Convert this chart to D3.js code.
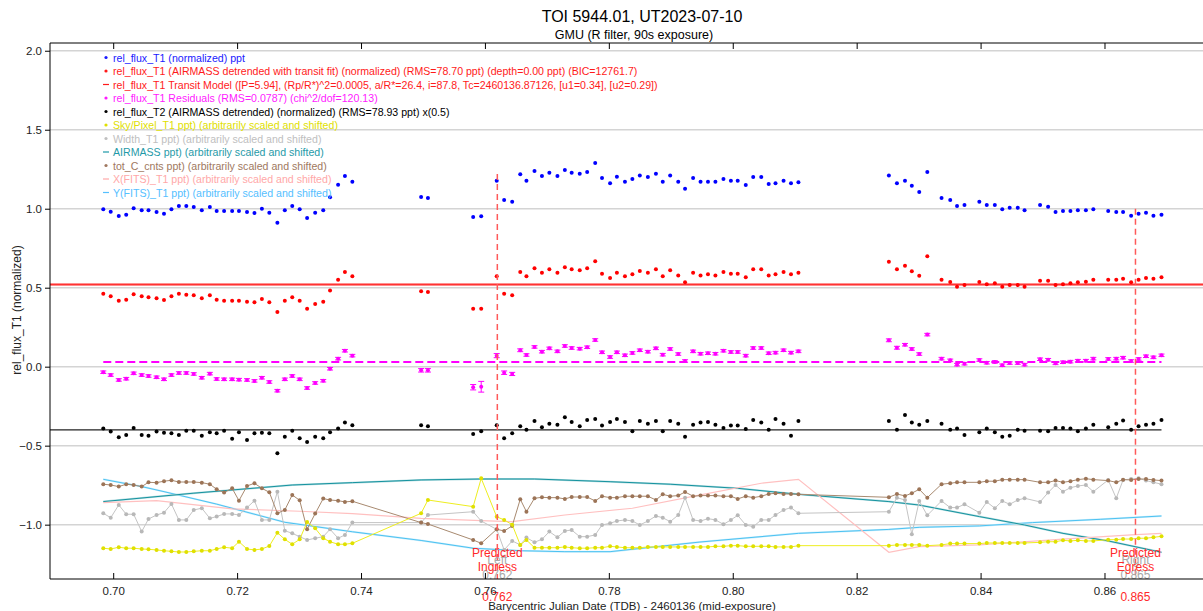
<!DOCTYPE html>
<html>
<head>
<meta charset="utf-8">
<script src="https://cdn.jsdelivr.net/npm/d3@7"></script>
<style>
  body { margin: 0; background: #fff; }
  svg { font-family: Arial, "Liberation Sans", sans-serif; }
</style>
</head>
<body>
<div id="chart"></div>
<script>
// TOI 5944.01 light curve, GMU 2023-07-10

var width = 1203,
    height = 611;

// ---- data ----
var times = [
  0.6984, 0.6996, 0.7009, 0.7021, 0.7033, 0.7046, 0.7057, 0.7070, 0.7082, 0.7094, 0.7106, 0.7118, 0.7130, 0.7143, 0.7156, 0.7167, 0.7179,
  0.7192, 0.7203, 0.7216, 0.7228, 0.7240, 0.7252, 0.7265, 0.7277, 0.7289, 0.7301, 0.7313, 0.7326, 0.7339, 0.7350, 0.7363, 0.7374, 0.7386,
  0.7497, 0.7508,
  0.7581, 0.7594,
  0.7619, 0.7631, 0.7644, 0.7657, 0.7667, 0.7680, 0.7692, 0.7704, 0.7717, 0.7729, 0.7740, 0.7753, 0.7765, 0.7778, 0.7789, 0.7802, 0.7813,
  0.7826, 0.7838, 0.7850, 0.7863, 0.7876, 0.7887, 0.7899, 0.7912, 0.7923, 0.7936, 0.7948, 0.7960, 0.7972, 0.7985, 0.7997, 0.8008, 0.8021,
  0.8033, 0.8046, 0.8058, 0.8069, 0.8082, 0.8094, 0.8106,
  0.8252, 0.8265, 0.8278, 0.8289, 0.8301, 0.8314, 0.8337, 0.8351, 0.8362, 0.8374, 0.8398, 0.8410, 0.8423, 0.8435, 0.8447, 0.8460, 0.8471,
  0.8496, 0.8509, 0.8521, 0.8533, 0.8545, 0.8557, 0.8570, 0.8582, 0.8606, 0.8619, 0.8630, 0.8643, 0.8655, 0.8667, 0.8679, 0.8692
];

var relFlux = [
  0.996, 0.981, 0.954, 0.962, 1.003, 0.990, 0.990, 0.979, 0.968, 0.996, 1.017, 1.017, 1.011, 0.990, 1.011, 0.985, 0.985,
  0.985, 0.985, 0.979, 0.973, 1.000, 0.975, 0.911, 0.990, 1.017, 0.996, 0.941, 0.975, 0.990, 1.072, 1.152, 1.207, 1.171,
  1.074, 1.068,
  0.947, 0.952,
  1.177, 1.055, 1.044, 1.218, 1.177, 1.239, 1.207, 1.228, 1.207, 1.245, 1.228, 1.222, 1.232, 1.289, 1.194, 1.161, 1.203,
  1.171, 1.188, 1.211, 1.201, 1.222, 1.171, 1.211, 1.171, 1.127, 1.194, 1.171, 1.171, 1.171, 1.188, 1.177, 1.177, 1.150,
  1.201, 1.201, 1.156, 1.161, 1.177, 1.161, 1.167,
  1.211, 1.161, 1.177, 1.146, 1.106, 1.232, 1.068, 1.055, 1.017, 1.023, 1.044, 1.023, 1.023, 0.996, 1.006, 1.006, 0.990,
  1.023, 1.013, 0.979, 0.985, 0.985, 0.990, 0.990, 0.996, 0.985, 0.979, 0.979, 0.956, 0.968, 0.975, 0.956, 0.962
];

var detrended = [
  0.462, 0.446, 0.418, 0.424, 0.458, 0.446, 0.439, 0.433, 0.422, 0.446, 0.462, 0.456, 0.452, 0.433, 0.452, 0.424, 0.418,
  0.418, 0.418, 0.411, 0.408, 0.428, 0.408, 0.346, 0.418, 0.439, 0.418, 0.367, 0.397, 0.411, 0.483, 0.551, 0.599, 0.572,
  0.477, 0.473,
  0.367, 0.367,
  0.572, 0.462, 0.452, 0.599, 0.572, 0.623, 0.595, 0.616, 0.595, 0.629, 0.616, 0.610, 0.623, 0.667, 0.589, 0.561, 0.595,
  0.572, 0.585, 0.606, 0.595, 0.616, 0.572, 0.610, 0.578, 0.534, 0.595, 0.578, 0.585, 0.578, 0.599, 0.589, 0.589, 0.566,
  0.616, 0.616, 0.578, 0.585, 0.599, 0.585, 0.595,
  0.665, 0.616, 0.639, 0.604, 0.576, 0.699, 0.551, 0.536, 0.506, 0.517, 0.536, 0.522, 0.528, 0.506, 0.517, 0.517, 0.506,
  0.544, 0.544, 0.517, 0.522, 0.528, 0.534, 0.538, 0.551, 0.551, 0.551, 0.557, 0.534, 0.551, 0.561, 0.557, 0.566
];

var residuals = [
  -0.035, -0.053, -0.084, -0.076, -0.042, -0.053, -0.059, -0.067, -0.080, -0.053, -0.040, -0.040, -0.046, -0.070, -0.044, -0.078, -0.080,
  -0.080, -0.082, -0.084, -0.090, -0.070, -0.097, -0.152, -0.080, -0.059, -0.080, -0.135, -0.103, -0.089, -0.013, 0.051, 0.101, 0.070,
  -0.023, -0.023,
  -0.130, -0.127,
  0.070, -0.038, -0.046, 0.104, 0.074, 0.125, 0.095, 0.116, 0.097, 0.131, 0.118, 0.114, 0.123, 0.169, 0.091, 0.061, 0.091,
  0.072, 0.087, 0.104, 0.095, 0.116, 0.076, 0.112, 0.080, 0.036, 0.097, 0.082, 0.085, 0.082, 0.101, 0.093, 0.093, 0.070,
  0.118, 0.118, 0.085, 0.089, 0.104, 0.089, 0.097,
  0.167, 0.120, 0.139, 0.112, 0.080, 0.203, 0.051, 0.040, 0.013, 0.019, 0.042, 0.025, 0.030, 0.009, 0.023, 0.023, 0.013,
  0.047, 0.044, 0.021, 0.028, 0.032, 0.038, 0.038, 0.051, 0.049, 0.051, 0.057, 0.036, 0.049, 0.066, 0.059, 0.072
];

var residualErr = [
  0.008, 0.008, 0.008, 0.008, 0.008, 0.008, 0.008, 0.008, 0.008, 0.008, 0.008, 0.008, 0.008, 0.008, 0.008, 0.008, 0.008,
  0.008, 0.008, 0.008, 0.008, 0.008, 0.008, 0.008, 0.008, 0.008, 0.008, 0.008, 0.008, 0.008, 0.008, 0.008, 0.008, 0.008,
  0.011, 0.011,
  0.017, 0.034,
  0.013, 0.011, 0.010, 0.009, 0.008, 0.008, 0.008, 0.008, 0.008, 0.008, 0.008, 0.008, 0.008, 0.008, 0.008, 0.008, 0.008,
  0.008, 0.008, 0.008, 0.008, 0.008, 0.008, 0.008, 0.008, 0.008, 0.008, 0.008, 0.008, 0.008, 0.008, 0.008, 0.008, 0.008,
  0.008, 0.008, 0.008, 0.008, 0.008, 0.008, 0.008,
  0.009, 0.009, 0.008, 0.008, 0.008, 0.008, 0.008, 0.008, 0.008, 0.008, 0.008, 0.008, 0.008, 0.008, 0.008, 0.008, 0.008,
  0.008, 0.008, 0.008, 0.008, 0.008, 0.008, 0.008, 0.008, 0.008, 0.008, 0.008, 0.008, 0.008, 0.008, 0.008, 0.008
];

var fluxT2 = [
  -0.392, -0.411, -0.447, -0.432, -0.388, -0.432, -0.437, -0.411, -0.418, -0.422, -0.432, -0.405, -0.405, -0.437, -0.415, -0.422, -0.405,
  -0.456, -0.415, -0.464, -0.422, -0.418, -0.422, -0.548, -0.443, -0.405, -0.453, -0.477, -0.443, -0.453, -0.415, -0.392, -0.354, -0.371,
  -0.371, -0.377,
  -0.426, -0.409,
  -0.371, -0.453, -0.422, -0.377, -0.399, -0.344, -0.384, -0.361, -0.367, -0.320, -0.350, -0.377, -0.337, -0.331, -0.373, -0.350, -0.331,
  -0.350, -0.409, -0.344, -0.361, -0.344, -0.409, -0.344, -0.361, -0.443, -0.367, -0.354, -0.350, -0.367, -0.388, -0.373, -0.373, -0.394,
  -0.337, -0.354, -0.399, -0.331, -0.361, -0.437, -0.344,
  -0.344, -0.399, -0.306, -0.354, -0.367, -0.344, -0.361, -0.399, -0.392, -0.432, -0.415, -0.392, -0.415, -0.443, -0.437, -0.399, -0.405,
  -0.405, -0.409, -0.388, -0.388, -0.392, -0.409, -0.392, -0.367, -0.384, -0.361, -0.341, -0.399, -0.377, -0.367, -0.361, -0.337
];

var skyPixel = [
  -1.149, -1.154, -1.143, -1.149, -1.149, -1.154, -1.156, -1.160, -1.165, -1.169, -1.173, -1.173, -1.169, -1.165, -1.165, -1.154, -1.143,
  -1.149, -1.108, -1.154, -1.160, -1.154, -1.135, -1.051, -1.093, -1.124, -1.093, -0.983, -1.023, -1.086, -1.108, -1.124, -1.124, -1.118,
  -0.928, -0.844,
  -0.886, -0.707,
  -0.950, -0.970, -1.000, -1.128, -1.097, -1.146, -1.146, -1.146, -1.146, -1.141, -1.146, -1.149, -1.149, -1.146, -1.146, -1.137, -1.141,
  -1.146, -1.146, -1.146, -1.141, -1.141, -1.141, -1.141, -1.141, -1.141, -1.141, -1.141, -1.141, -1.137, -1.137, -1.133, -1.133, -1.137,
  -1.137, -1.137, -1.137, -1.141, -1.141, -1.141, -1.133,
  -1.133, -1.128, -1.128, -1.128, -1.128, -1.133, -1.128, -1.120, -1.120, -1.120, -1.120, -1.116, -1.116, -1.116, -1.116, -1.116, -1.116,
  -1.112, -1.108, -1.108, -1.099, -1.103, -1.099, -1.103, -1.103, -1.095, -1.095, -1.091, -1.091, -1.086, -1.086, -1.080, -1.074
];

var widthT1 = [
  -0.928, -0.956, -0.875, -0.934, -0.934, -1.044, -0.964, -0.939, -0.924, -0.869, -0.970, -0.970, -0.907, -0.896, -0.960, -0.949, -0.932,
  -0.932, -0.939, -0.892, -0.848, -0.970, -0.970, -0.791, -1.038, -1.055, -1.076, -1.097, -1.086, -1.076, -1.029, -1.086, -1.065, -0.987,
  -0.987, -0.939,
  -0.918, -0.977,
  -1.030, -1.160, -1.103, -1.128, -1.082, -1.111, -1.093, -1.044, -1.080, -1.040, -1.034, -1.076, -1.076, -1.065, -1.002, -0.991, -0.977,
  -0.970, -0.977, -1.002, -0.977, -0.945, -0.956, -0.981, -0.939, -0.829, -0.970, -0.977, -0.962, -0.970, -0.998, -0.970, -0.941, -1.002,
  -1.013, -0.970, -0.970, -0.939, -0.907, -0.892, -0.928,
  -0.918, -0.829, -0.844, -1.061, -0.850, -0.941, -0.850, -0.892, -0.892, -0.871, -0.924, -0.856, -0.896, -0.850, -0.871, -0.844, -0.833,
  -0.856, -0.797, -0.749, -0.791, -0.766, -0.755, -0.749, -0.791, -0.717, -0.833, -0.717, -0.711, -0.707, -0.721, -0.732, -0.744
];

var totCnts = [
  -0.744, -0.749, -0.759, -0.744, -0.749, -0.759, -0.732, -0.734, -0.725, -0.719, -0.730, -0.730, -0.730, -0.734, -0.744, -0.776, -0.797,
  -0.770, -0.848, -0.755, -0.738, -0.770, -0.795, -0.928, -0.907, -0.812, -0.846, -1.029, -0.930, -0.835, -0.844, -0.848, -0.856, -0.852,
  -0.987, -0.996,
  -1.097, -1.118,
  -1.029, -1.040, -1.008, -0.839, -0.918, -0.833, -0.827, -0.829, -0.829, -0.837, -0.825, -0.825, -0.825, -0.850, -0.820, -0.829, -0.829,
  -0.820, -0.820, -0.820, -0.820, -0.844, -0.808, -0.820, -0.816, -0.793, -0.820, -0.816, -0.816, -0.816, -0.820, -0.820, -0.837, -0.820,
  -0.829, -0.820, -0.806, -0.801, -0.806, -0.806, -0.808,
  -0.827, -0.806, -0.818, -0.801, -0.776, -0.829, -0.744, -0.738, -0.732, -0.732, -0.732, -0.725, -0.725, -0.715, -0.715, -0.715, -0.715,
  -0.732, -0.732, -0.721, -0.732, -0.725, -0.715, -0.709, -0.715, -0.721, -0.732, -0.715, -0.717, -0.711, -0.711, -0.717, -0.721
];

// smooth auxiliary curves, read at a few times
var airmassT = [0.6984, 0.7129, 0.7289, 0.7386, 0.7497, 0.7594, 0.7680, 0.7802, 0.7899, 0.8008, 0.8106, 0.8252, 0.8301, 0.8398, 0.8471, 0.8533, 0.8606, 0.8692];
var airmassV = [-0.854, -0.801, -0.749, -0.734, -0.717, -0.711, -0.711, -0.728, -0.744, -0.770, -0.808, -0.854, -0.876, -0.949, -1.002, -1.055, -1.103, -1.175];

var xfitsT = [0.6984, 0.7070, 0.7192, 0.7301, 0.7386, 0.7497, 0.7594, 0.7644, 0.7729, 0.7838, 0.7948, 0.8046, 0.8106, 0.8252, 0.8301, 0.8398, 0.8533, 0.8643, 0.8692];
var xfitsV = [-0.860, -0.848, -0.900, -0.915, -0.930, -0.960, -0.975, -0.981, -0.939, -0.896, -0.812, -0.738, -0.713, -1.175, -1.139, -1.128, -1.091, -1.065, -1.055];

var yfitsT = [0.6984, 0.7046, 0.7082, 0.7167, 0.7277, 0.7386, 0.7497, 0.7581, 0.7657, 0.7729, 0.7802, 0.7947, 0.8106, 0.8252, 0.8301, 0.8398, 0.8484, 0.8594, 0.8692];
var yfitsV = [-0.713, -0.759, -0.791, -0.870, -0.985, -1.045, -1.100, -1.149, -1.165, -1.171, -1.171, -1.110, -1.055, -1.030, -1.017, -1.008, -0.987, -0.966, -0.945];

var transitModel = 0.52;     // rel_flux_T1 model level
var residualBase = 0.03;     // residual zero line
var t2Model = -0.40;         // rel_flux_T2 model level

var ingress = 0.762, egress = 0.865;
var ingressTop = 1.22, egressTop = 1.0;

var xTicks = [0.70, 0.72, 0.74, 0.76, 0.78, 0.80, 0.82, 0.84, 0.86];
var yTicks = [-1.0, -0.5, 0.0, 0.5, 1.0, 1.5, 2.0];

var legendLabels = [
  "rel_flux_T1 (normalized) ppt",
  "rel_flux_T1 (AIRMASS detrended with transit fit) (normalized) (RMS=78.70 ppt) (depth=0.00 ppt) (BIC=12761.7)",
  "rel_flux_T1 Transit Model ([P=5.94], (Rp/R*)^2=0.0005, a/R*=26.4, i=87.8, Tc=2460136.87126, [u1=0.34], [u2=0.29])",
  "rel_flux_T1 Residuals (RMS=0.0787) (chi^2/dof=120.13)",
  "rel_flux_T2 (AIRMASS detrended) (normalized) (RMS=78.93 ppt) x(0.5)",
  "Sky/Pixel_T1 ppt) (arbitrarily scaled and shifted)",
  "Width_T1 ppt) (arbitrarily scaled and shifted)",
  "AIRMASS ppt) (arbitrarily scaled and shifted)",
  "tot_C_cnts ppt) (arbitrarily scaled and shifted)",
  "X(FITS)_T1 ppt) (arbitrarily scaled and shifted)",
  "Y(FITS)_T1 ppt) (arbitrarily scaled and shifted)"
];
var legendColors = ["#1a1aff", "#ff1a1a", "#ff1a1a", "#ff1aff", "#000000", "#e0e000", "#c0c0c0", "#1f9aa8", "#a07860", "#ffa8a8", "#55c0ff"];
var legendKinds = ["dot", "dot", "line", "dot", "dot", "dot", "dot", "line", "dot", "line", "line"];

// ---- layout ----
var mLeft = 50, mRight = 1203, mTop = 43, mBottom = 579;

var svg = d3.select("#chart")
  .append("svg")
  .attr("width", width)
  .attr("height", height);

var x = d3.scaleLinear().domain([0.6898, 0.8759]).range([mLeft, mRight]);
var y = d3.scaleLinear().domain([-1.344, 2.049]).range([mBottom, mTop]);

svg.append("clipPath").attr("id", "clip")
  .append("rect").attr("x", mLeft).attr("y", mTop).attr("width", mRight - mLeft).attr("height", mBottom - mTop);

// horizontal grid
svg.append("g").selectAll("line")
  .data(yTicks).enter().append("line")
  .attr("x1", mLeft).attr("x2", mRight)
  .attr("y1", function(d) { return y(d); })
  .attr("y2", function(d) { return y(d); })
  .attr("stroke", "#d4d4d4")
  .attr("stroke-width", 1.5);

var plot = svg.append("g").attr("clip-path", "url(#clip)");

var idx = d3.range(times.length);

// helper for line + dots series
function lineOf(vals) {
  return d3.line()
    .x(function(i) { return x(times[i]); })
    .y(function(i) { return y(vals[i]); });
}
function sparseLine(ts, vs, color, w) {
  plot.append("path")
    .datum(d3.range(ts.length))
    .attr("fill", "none")
    .attr("stroke", color)
    .attr("stroke-width", w)
    .attr("d", d3.line()
      .x(function(i) { return x(ts[i]); })
      .y(function(i) { return y(vs[i]); }));
}
function dots(vals, color, r) {
  plot.append("g").selectAll("circle")
    .data(idx).enter().append("circle")
    .attr("cx", function(i) { return x(times[i]); })
    .attr("cy", function(i) { return y(vals[i]); })
    .attr("r", r)
    .attr("fill", color);
}

// auxiliary curves (bottom)
sparseLine(yfitsT, yfitsV, "#cdeefb", 2);
sparseLine(yfitsT, yfitsV, "#4cc2f2", 1);
sparseLine(airmassT, airmassV, "#b5dde1", 2);
sparseLine(airmassT, airmassV, "#16939f", 1);
sparseLine(xfitsT, xfitsV, "#ffc0c0", 1.2);

[[widthT1, "#c4c4c4", "#b8b8b8"], [totCnts, "#a88a70", "#9c7457"], [skyPixel, "#eeee20", "#e0e000"]].forEach(function(s) {
  plot.append("path").datum(idx)
    .attr("fill", "none").attr("stroke", s[1]).attr("stroke-width", 1)
    .attr("d", lineOf(s[0]));
  dots(s[0], s[2], 2);
});

// model lines
plot.append("line")
  .attr("x1", mLeft).attr("x2", mRight)
  .attr("y1", y(transitModel)).attr("y2", y(transitModel))
  .attr("stroke", "#ff9090").attr("stroke-width", 3);
plot.append("line")
  .attr("x1", mLeft).attr("x2", mRight)
  .attr("y1", y(transitModel)).attr("y2", y(transitModel))
  .attr("stroke", "#ff3030").attr("stroke-width", 1);

plot.append("line")
  .attr("x1", mLeft).attr("x2", x(d3.max(times)))
  .attr("y1", y(t2Model)).attr("y2", y(t2Model))
  .attr("stroke", "#222").attr("stroke-width", 1.2);

plot.append("line")
  .attr("x1", x(d3.min(times))).attr("x2", x(d3.max(times)))
  .attr("y1", y(residualBase)).attr("y2", y(residualBase))
  .attr("stroke", "#ff00ff").attr("stroke-width", 2)
  .attr("stroke-dasharray", "8,4");

// residual error bars
var eb = plot.append("g").attr("stroke", "#ff00ff").attr("stroke-width", 1);
idx.forEach(function(i) {
  var cx = x(times[i]), y1 = y(residuals[i] - residualErr[i]), y2 = y(residuals[i] + residualErr[i]);
  eb.append("line").attr("x1", cx).attr("x2", cx).attr("y1", y1).attr("y2", y2);
  eb.append("line").attr("x1", cx - 3).attr("x2", cx + 3).attr("y1", y1).attr("y2", y1);
  eb.append("line").attr("x1", cx - 3).attr("x2", cx + 3).attr("y1", y2).attr("y2", y2);
});

dots(relFlux, "#0000ff", 2);
dots(detrended, "#ff0000", 2);
dots(residuals, "#ff00ff", 2);
dots(fluxT2, "#000000", 2);

// predicted ingress / egress
[[ingress, ingressTop, "Ingress", "Left"], [egress, egressTop, "Egress", "Right"]].forEach(function(p) {
  var px = x(p[0]);
  svg.append("line")
    .attr("x1", px).attr("x2", px)
    .attr("y1", y(p[1])).attr("y2", mBottom)
    .attr("stroke", "#ff5a5a").attr("stroke-width", 1.5)
    .attr("stroke-dasharray", "6,4");
  var g = svg.append("g").attr("text-anchor", "middle").attr("font-size", "12px");
  g.append("text").attr("x", px).attr("y", 564).attr("fill", "#a8a8a8").text(p[3]);
  g.append("text").attr("x", px).attr("y", 579).attr("fill", "#a8a8a8").text(d3.format(".3f")(p[0]));
  g.append("text").attr("x", px).attr("y", 557).attr("fill", "#ff2a2a").text("Predicted");
  g.append("text").attr("x", px).attr("y", 571).attr("fill", "#ff2a2a").text(p[2]);
  g.append("text").attr("x", px).attr("y", 601).attr("fill", "#ff2a2a").text(d3.format(".3f")(p[0]));
});

// axes
var xAxis = svg.append("g")
  .attr("transform", "translate(0," + mBottom + ")")
  .call(d3.axisBottom(x).tickValues(xTicks).tickSize(-6).tickPadding(8).tickFormat(d3.format(".2f")));
xAxis.select(".domain").remove();
xAxis.selectAll("text").attr("font-size", "11.5px").attr("fill", "#222");

var topAxis = svg.append("g")
  .attr("transform", "translate(0," + mTop + ")")
  .call(d3.axisTop(x).tickValues(xTicks).tickSize(-6).tickFormat(""));
topAxis.select(".domain").remove();

var yAxis = svg.append("g")
  .attr("transform", "translate(" + mLeft + ",0)")
  .call(d3.axisLeft(y).tickValues(yTicks).tickSize(5).tickPadding(3).tickFormat(d3.format(".1f")));
yAxis.select(".domain").remove();
yAxis.selectAll("text").attr("font-size", "11.5px").attr("fill", "#222");

svg.append("line").attr("x1", mLeft).attr("x2", mRight).attr("y1", mTop).attr("y2", mTop).attr("stroke", "#000");
svg.append("line").attr("x1", mLeft).attr("x2", mRight).attr("y1", mBottom).attr("y2", mBottom).attr("stroke", "#000");
svg.append("line").attr("x1", mLeft).attr("x2", mLeft).attr("y1", mTop).attr("y2", mBottom).attr("stroke", "#000");

// titles
svg.append("text").attr("x", 642).attr("y", 22).attr("text-anchor", "middle")
  .attr("font-size", "16px").attr("fill", "#000").text("TOI 5944.01, UT2023-07-10");
svg.append("text").attr("x", 634).attr("y", 39).attr("text-anchor", "middle")
  .attr("font-size", "12.5px").attr("fill", "#000").text("GMU (R filter, 90s exposure)");
svg.append("text").attr("x", 632).attr("y", 610).attr("text-anchor", "middle")
  .attr("font-size", "11.5px").attr("fill", "#222").text("Barycentric Julian Date (TDB) - 2460136 (mid-exposure)");
svg.append("text")
  .attr("transform", "translate(21,310) rotate(-90)")
  .attr("text-anchor", "middle").attr("font-size", "12px").attr("fill", "#222")
  .text("rel_flux_T1 (normalized)");

// legend
var legend = svg.append("g").attr("font-size", "10.6px");
legendLabels.forEach(function(label, i) {
  var ly = 57.5 + i * 13.5;
  if (legendKinds[i] === "dot") {
    legend.append("circle").attr("cx", 106).attr("cy", ly).attr("r", 1.6).attr("fill", legendColors[i]);
  } else {
    legend.append("line").attr("x1", 103).attr("x2", 109).attr("y1", ly).attr("y2", ly)
      .attr("stroke", legendColors[i]).attr("stroke-width", 1.2);
  }
  legend.append("text").attr("x", 113).attr("y", ly + 4).attr("fill", legendColors[i]).text(label);
});
</script>
</body>
</html>
